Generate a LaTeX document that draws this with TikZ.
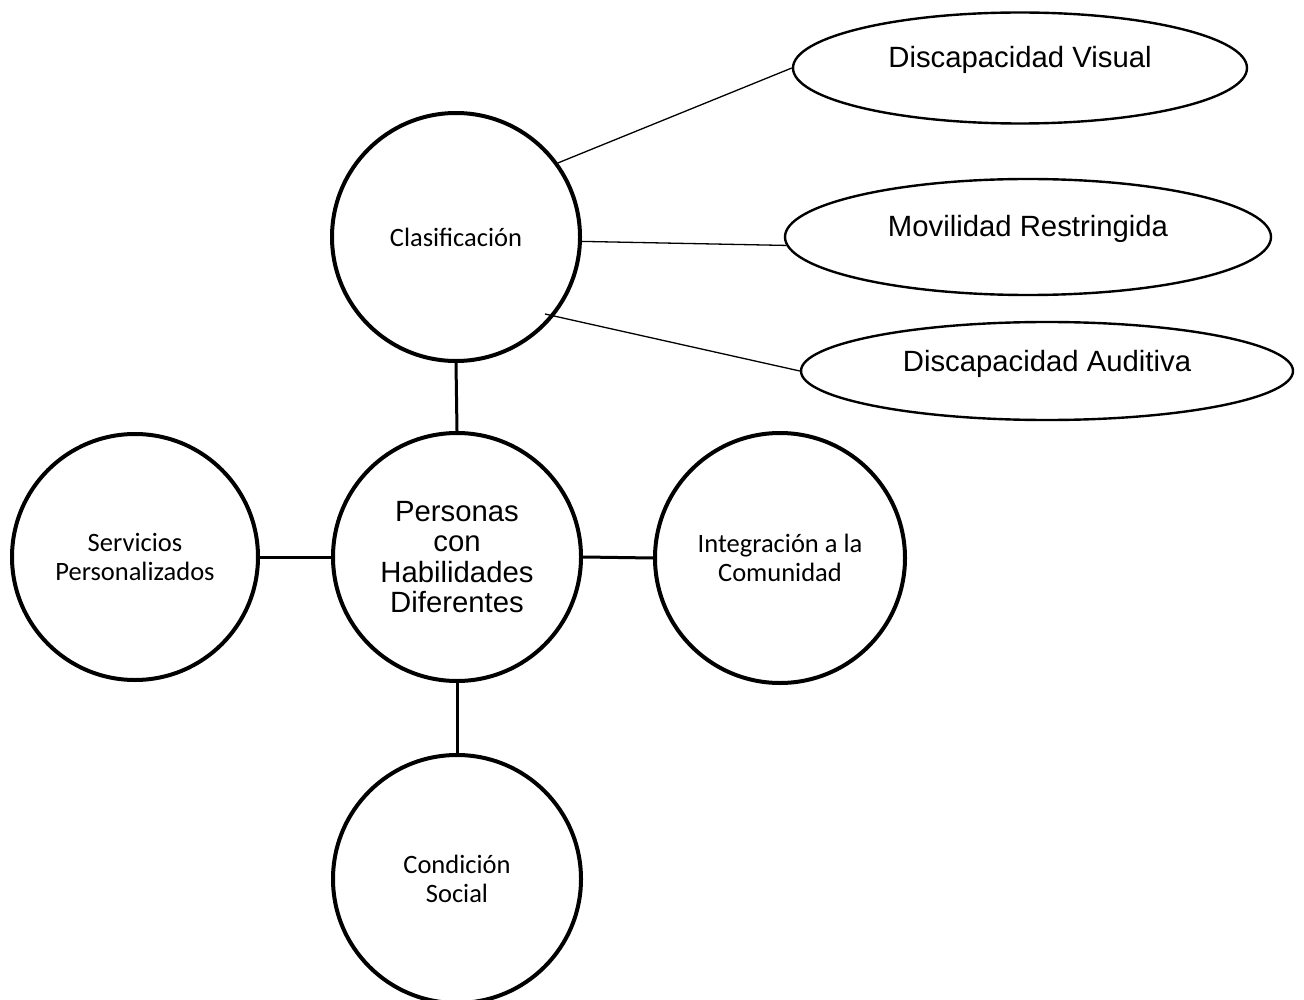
\documentclass[tikz,border=0pt]{standalone}
\usepackage{fontspec}
\usetikzlibrary{shapes.geometric,calc}
\newfontfamily\arialfont{Liberation Sans}
\newfontfamily\calibrifont{Carlito}
\begin{document}
\begin{tikzpicture}[x=1pt,y=-1pt,
  bigcircle/.style={circle,draw,line width=4pt,inner sep=0pt,align=center},
  smalltext/.style={font=\calibrifont\fontsize{26.5}{29}\selectfont},
  bigtext/.style={font=\arialfont\fontsize{29.3}{30.5}\selectfont},
  oval/.style={ellipse,draw,line width=2.4pt,inner sep=0pt,
    text height=0pt,text depth=0pt,bigtext},
  thinlink/.style={line width=1.3pt},
  thicklink/.style={line width=3pt}]
\clip (0,0) rectangle (1304,1000);

% central hub and its four branches
\node[bigcircle,minimum size=248,bigtext] (per) at (457,557)
  {Personas\\con\\Habilidades\\Diferentes};
\node[bigcircle,minimum size=248,smalltext] (clas) at (456,237) {Clasificación};
\node[bigcircle,minimum size=246,smalltext] (serv) at (135,557)
  {Servicios\\Personalizados};
\node[bigcircle,minimum size=250,smalltext] (integ) at (780,558)
  {Integración a la\\Comunidad};
\node[bigcircle,minimum size=248,smalltext] (cond) at (457,879)
  {Condición\\Social};

% kinds of disability
\node[oval,minimum width=454,minimum height=111] (vis) at (1020,68)
  {Discapacidad Visual};
\node[oval,minimum width=486,minimum height=116] (mov) at (1028,237)
  {Movilidad Restringida};
\node[oval,minimum width=492,minimum height=98] (aud) at (1047,371)
  {Discapacidad Auditiva};

\coordinate (a3) at (545,314);

\draw[thinlink] (clas.36) -- (vis.west);
\draw[thinlink] (clas.-2) -- (mov.182);
\draw[thinlink] (a3) -- (aud.west);

\draw[thicklink] (clas.south) -- (per.north);
\draw[thicklink] (per.west) -- (serv.east);
\draw[thicklink] (per.east) -- (integ.west);
\draw[thicklink] (per.south) -- (cond.north);
\end{tikzpicture}
\end{document}
